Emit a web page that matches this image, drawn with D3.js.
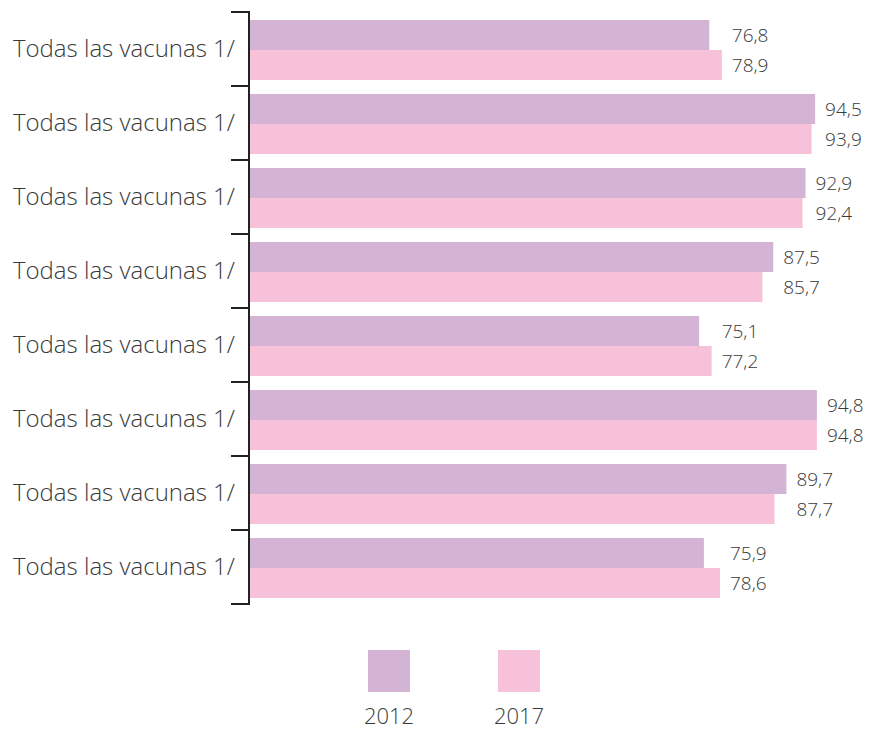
<!DOCTYPE html>
<html>
<head>
<meta charset="utf-8">
<script src="https://cdn.jsdelivr.net/npm/d3@7"></script>
<style>
  body { margin: 0; background: #fff; }
  text { font-family: "Open Sans", "Noto Sans", sans-serif; font-weight: 300; fill: #3a3a3a; }
</style>
</head>
<body>
<script>
// data
const categories = ["Todas las vacunas 1/", "Todas las vacunas 1/", "Todas las vacunas 1/", "Todas las vacunas 1/",
                    "Todas las vacunas 1/", "Todas las vacunas 1/", "Todas las vacunas 1/", "Todas las vacunas 1/"];
const years = ["2012", "2017"];
const values2012 = [76.8, 94.5, 92.9, 87.5, 75.1, 94.8, 89.7, 75.9];
const values2017 = [78.9, 93.9, 92.4, 85.7, 77.2, 94.8, 87.7, 78.6];
const colors = ["#d3b4d4", "#f7c1d9"];

const canvWidth = 872, canvHeight = 729;

const svg = d3.select("body").append("svg")
    .attr("width", canvWidth)
    .attr("height", canvHeight);

const rows = categories.map((c, i) => ({i: i, name: c, vals: [values2012[i], values2017[i]]}));

// scales
const xScale = d3.scaleLinear()
    .domain([0, 100])
    .range([250, 848]);

const yScale = d3.scaleBand()
    .domain(d3.range(categories.length))
    .range([12, 604]);

const inner = d3.scaleBand()
    .domain([0, 1])
    .range([8, 68]);

const g = svg.append("g");

// bars
const groups = g.selectAll(".grp")
    .data(rows)
    .enter().append("g")
    .attr("class", "grp")
    .attr("transform", d => "translate(0," + yScale(d.i) + ")");

groups.selectAll("rect")
    .data(d => d.vals.map((v, k) => ({v: v, k: k})))
    .enter().append("rect")
    .attr("x", xScale(0))
    .attr("y", d => inner(d.k))
    .attr("width", d => xScale(d.v) - xScale(0))
    .attr("height", inner.bandwidth())
    .attr("fill", d => colors[d.k]);

// value labels, both placed after the longer bar of the pair
groups.each(function(d) {
    const xm = xScale(d3.max(d.vals)) + 10;
    d3.select(this).selectAll(".val")
        .data(d.vals)
        .enter().append("text")
        .attr("class", "val")
        .attr("x", xm)
        .attr("y", (v, k) => inner(k) + inner.bandwidth() / 2)
        .attr("dy", "0.35em")
        .attr("font-size", "19px")
        .text(v => d3.format(".1f")(v).replace(".", ","));
});

// y axis with ticks between categories
const axis = g.append("g");
axis.append("line")
    .attr("x1", xScale(0) - 1).attr("x2", xScale(0) - 1)
    .attr("y1", yScale.range()[0]).attr("y2", yScale.range()[1])
    .attr("stroke", "#222").attr("stroke-width", 2);

const tickPos = d3.range(categories.length + 1).map(i => yScale.range()[0] + i * yScale.step());
axis.selectAll(".tk")
    .data(tickPos)
    .enter().append("line")
    .attr("x1", xScale(0) - 19).attr("x2", xScale(0))
    .attr("y1", d => d).attr("y2", d => d)
    .attr("stroke", "#222").attr("stroke-width", 2);

axis.selectAll(".lbl")
    .data(rows)
    .enter().append("text")
    .attr("x", 235)
    .attr("y", d => yScale(d.i) + yScale.bandwidth() / 2)
    .attr("dy", "0.35em")
    .attr("text-anchor", "end")
    .attr("font-size", "24px")
    .text(d => d.name);

// legend
const legend = svg.append("g");
const lx = d3.scalePoint().domain(years).range([389, 519]);
legend.selectAll("rect")
    .data(years)
    .enter().append("rect")
    .attr("x", d => lx(d) - 21)
    .attr("y", 650)
    .attr("width", 42)
    .attr("height", 42)
    .attr("fill", (d, i) => colors[i]);

legend.selectAll("text")
    .data(years)
    .enter().append("text")
    .attr("x", d => lx(d))
    .attr("y", 724)
    .attr("text-anchor", "middle")
    .attr("font-size", "22px")
    .text(d => d);
</script>
</body>
</html>
